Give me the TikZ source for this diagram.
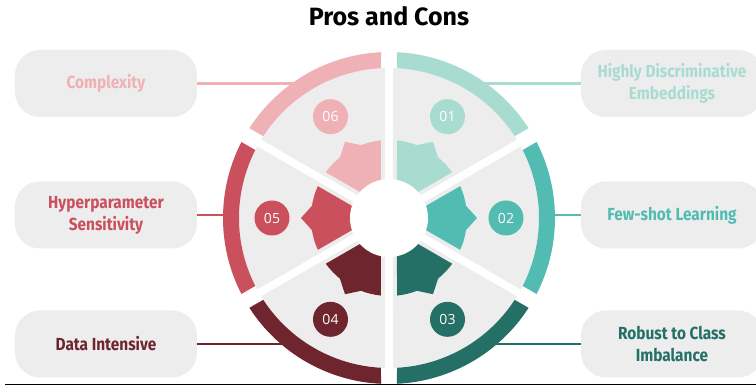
\documentclass[tikz,border=0pt]{standalone}
\usepackage{fontspec}
\newfontfamily\titlefont{Fira Sans}
\newfontfamily\labelfont{Fira Sans}[FakeStretch=0.88]
\newfontfamily\numfont{Open Sans}
\definecolor{cA}{HTML}{A8DCD1}
\definecolor{cB}{HTML}{52BBB2}
\definecolor{cC}{HTML}{246F66}
\definecolor{cD}{HTML}{6E252D}
\definecolor{cE}{HTML}{C9505C}
\definecolor{cF}{HTML}{EFB1B5}
\definecolor{panel}{HTML}{EDEDED}
\definecolor{baseline}{HTML}{6F7A85}
\tikzset{
  labelbox/.style={fill=panel, rounded corners=25pt, minimum width=182pt,
    minimum height=67pt, align=center, inner sep=0pt,
    font=\labelfont\bfseries\fontsize{17.5}{22}\selectfont},
  numdot/.style={circle, minimum size=35pt, inner sep=0pt, text=white,
    font=\numfont\fontsize{14}{14}\selectfont},
  link/.style={line width=2.6pt}
}
\begin{document}
\begin{tikzpicture}[x=1pt,y=1pt]
\useasboundingbox (-389,-169) rectangle (367,218);
\fill[white] (-389,-169) rectangle (367,218);

% title
\node[font=\titlefont\bfseries\fontsize{25}{25}\selectfont] (title) at (0,202) {Pros and Cons};

% label boxes
\node[labelbox, text=cF] (L1) at (-283,134.5) {Complexity};
\node[labelbox, text=cE] (L2) at (-283,3) {Hyperparameter\\Sensitivity};
\node[labelbox, text=cD] (L3) at (-283,-126) {Data Intensive};
\node[labelbox, text=cA] (R1) at (283,134.5) {Highly Discriminative\\Embeddings};
\node[labelbox, text=cB] (R2) at (283,3) {Few-shot Learning};
\node[labelbox, text=cC] (R3) at (283,-126) {Robust to Class\\Imbalance};

% anchor points on the outer ring
\coordinate (a1) at (82,134.5);
\coordinate (a2) at (158,3);
\coordinate (a3) at (97,-126);
\coordinate (a4) at (-97,-126);
\coordinate (a5) at (-158,3);
\coordinate (a6) at (-82,134.5);

% connectors
\draw[link, cF] (L1.east) -- (a6);
\draw[link, cE] (L2.east) -- (a5);
\draw[link, cD] (L3.east) -- (a4);
\draw[link, cA] (R1.west) -- (a1);
\draw[link, cB] (R2.west) -- (a2);
\draw[link, cC] (R3.west) -- (a3);

% wheel: grey sectors, star pieces, outer arcs and number badges
\foreach \c/\col/\n in {60/cA/01, 0/cB/02, -60/cC/03, -120/cD/04, 180/cE/05, 120/cF/06}{
  \pgfmathsetmacro{\a}{\c-30}
  \pgfmathsetmacro{\b}{\c+30}
  % grey sector
  \fill[panel] (\c:8) -- ({\a+1.53}:150)
    arc[start angle={\a+1.53}, end angle={\b-1.53}, radius=150] -- cycle;
  % star piece
  \fill[\col] (\c:16) -- ({\a+5.89}:78)
    arc[start angle={\a+5.89}, end angle={\c-9}, radius=78]
    -- (\c:88) -- ({\c+9}:78)
    arc[start angle={\c+9}, end angle={\b-5.89}, radius=78] -- cycle;
  % outer arc
  \fill[\col] ({\a+2.76}:166)
    arc[start angle={\a+2.76}, end angle={\b-2.76}, radius=166]
    -- ({\b-3.06}:150)
    arc[start angle={\b-3.06}, end angle={\a+3.06}, radius=150] -- cycle;
  % badge
  \node[numdot, fill=\col] (n\n) at (\c:117) {\n};
}

% hub
\fill[white] (0,0) circle[radius=39];

% base rule
\draw[baseline, line width=1.5pt] (-384,-166.5) -- (367,-166.5);
\end{tikzpicture}
\end{document}
